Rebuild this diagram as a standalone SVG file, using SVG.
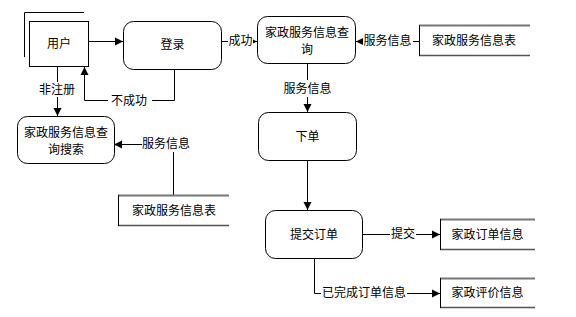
<svg xmlns="http://www.w3.org/2000/svg" width="576" height="317" viewBox="0 0 576 317">
<defs>
<marker id="ah" markerWidth="10" markerHeight="10" refX="9" refY="5" orient="auto" markerUnits="userSpaceOnUse">
<path d="M1,1 L9,5 L1,9 Z" fill="#000"/>
</marker>
<style>
.box{fill:#fff;stroke:#000;stroke-width:1}
.ds{fill:none;stroke:#000;stroke-width:1}
.dst{fill:none;stroke:#777;stroke-width:2}
.dsb{fill:none;stroke:#555;stroke-width:1.5}
.ln{fill:none;stroke:#000;stroke-width:1}
.ar{fill:none;stroke:#000;stroke-width:1;marker-end:url(#ah)}
text{font-family:"Liberation Sans","Noto Sans CJK SC",sans-serif;font-size:12px;fill:#000;text-anchor:middle;dominant-baseline:central}
.lb{fill:#fff}
</style>
</defs>
<rect width="576" height="317" fill="#fff"/>
<g id="connectors">
<path class="ar" d="M88.5,41.5 H123"/>
<path class="ln" d="M222,41.5 H228"/>
<path class="ar" d="M252,41.5 H257"/>
<path class="ln" d="M419,41.5 H413"/>
<path class="ar" d="M362,41.5 H356"/>
<path class="ln" d="M307.5,64 V80"/>
<path class="ar" d="M307.5,97 V112"/>
<path class="ar" d="M307.5,161 V210"/>
<path class="ln" d="M57.5,67 V82"/>
<path class="ar" d="M57.5,97 V116"/>
<path class="ar" d="M174.5,70 V100.5 H84.5 V67"/>
<path class="ln" d="M173.5,195 V152"/>
<path class="ar" d="M142,144.5 H114"/>
<path class="ar" d="M363,234.5 H440"/>
<path class="ar" d="M314.5,259 V293.5 H440"/>
<rect class="lb" x="31" y="82" width="52" height="15"/>
<text x="57" y="89.5">非注册</text>
<rect class="lb" x="108" y="93" width="44" height="15"/>
<text x="129" y="100.5">不成功</text>
<rect class="lb" x="229" y="34" width="24" height="15"/>
<text x="240.5" y="41">成功</text>
<rect class="lb" x="363" y="34" width="49" height="15"/>
<text x="387.5" y="41">服务信息</text>
<rect class="lb" x="283" y="81" width="49" height="15"/>
<text x="307.5" y="88.5">服务信息</text>
<rect class="lb" x="142" y="137" width="49" height="15"/>
<text x="166" y="144">服务信息</text>
<rect class="lb" x="390" y="227" width="26" height="15"/>
<text x="403" y="234">提交</text>
<rect class="lb" x="321" y="286" width="86" height="15"/>
<text x="364" y="293">已完成订单信息</text>
</g>
<g id="user">
<path class="ln" d="M24.5,57 V12.5 H84"/>
<rect class="box" x="29.5" y="21.5" width="59" height="45"/>
<text x="59" y="44">用户</text>
</g>
<g id="login">
<rect class="box" x="123.5" y="21.5" width="98" height="48" rx="10"/>
<text x="172.5" y="45">登录</text>
</g>
<g id="query">
<rect class="box" x="257.5" y="16.5" width="98" height="47" rx="10"/>
<text x="307" y="33">家政服务信息查</text>
<text x="307" y="50">询</text>
</g>
<g id="ds1">
<path class="dst" d="M419,25.5 H530"/>
<path class="dsb" d="M419,55.5 H530"/>
<path class="ds" d="M419.5,25 V56"/>
<text x="474" y="41">家政服务信息表</text>
</g>
<g id="search">
<rect class="box" x="17.5" y="116.5" width="97" height="47" rx="10"/>
<text x="66" y="133">家政服务信息查</text>
<text x="66" y="150">询搜索</text>
</g>
<g id="ds2">
<path class="dst" d="M118,195.5 H229"/>
<path class="dsb" d="M118,225.5 H229"/>
<path class="ds" d="M118.5,195 V226"/>
<text x="174" y="210.5">家政服务信息表</text>
</g>
<g id="order">
<rect class="box" x="258.5" y="112.5" width="98" height="48" rx="10"/>
<text x="307.5" y="136.5">下单</text>
</g>
<g id="submit">
<rect class="box" x="265.5" y="210.5" width="97" height="48" rx="10"/>
<text x="314" y="234.5">提交订单</text>
</g>
<g id="ds3">
<path class="dst" d="M440,219.5 H535"/>
<path class="dsb" d="M440,249.5 H535"/>
<path class="ds" d="M440.5,219 V250"/>
<text x="487.5" y="234.5">家政订单信息</text>
</g>
<g id="ds4">
<path class="dst" d="M440,278.5 H535"/>
<path class="dsb" d="M440,307.5 H535"/>
<path class="ds" d="M440.5,278 V308"/>
<text x="487.5" y="293">家政评价信息</text>
</g>
</svg>
